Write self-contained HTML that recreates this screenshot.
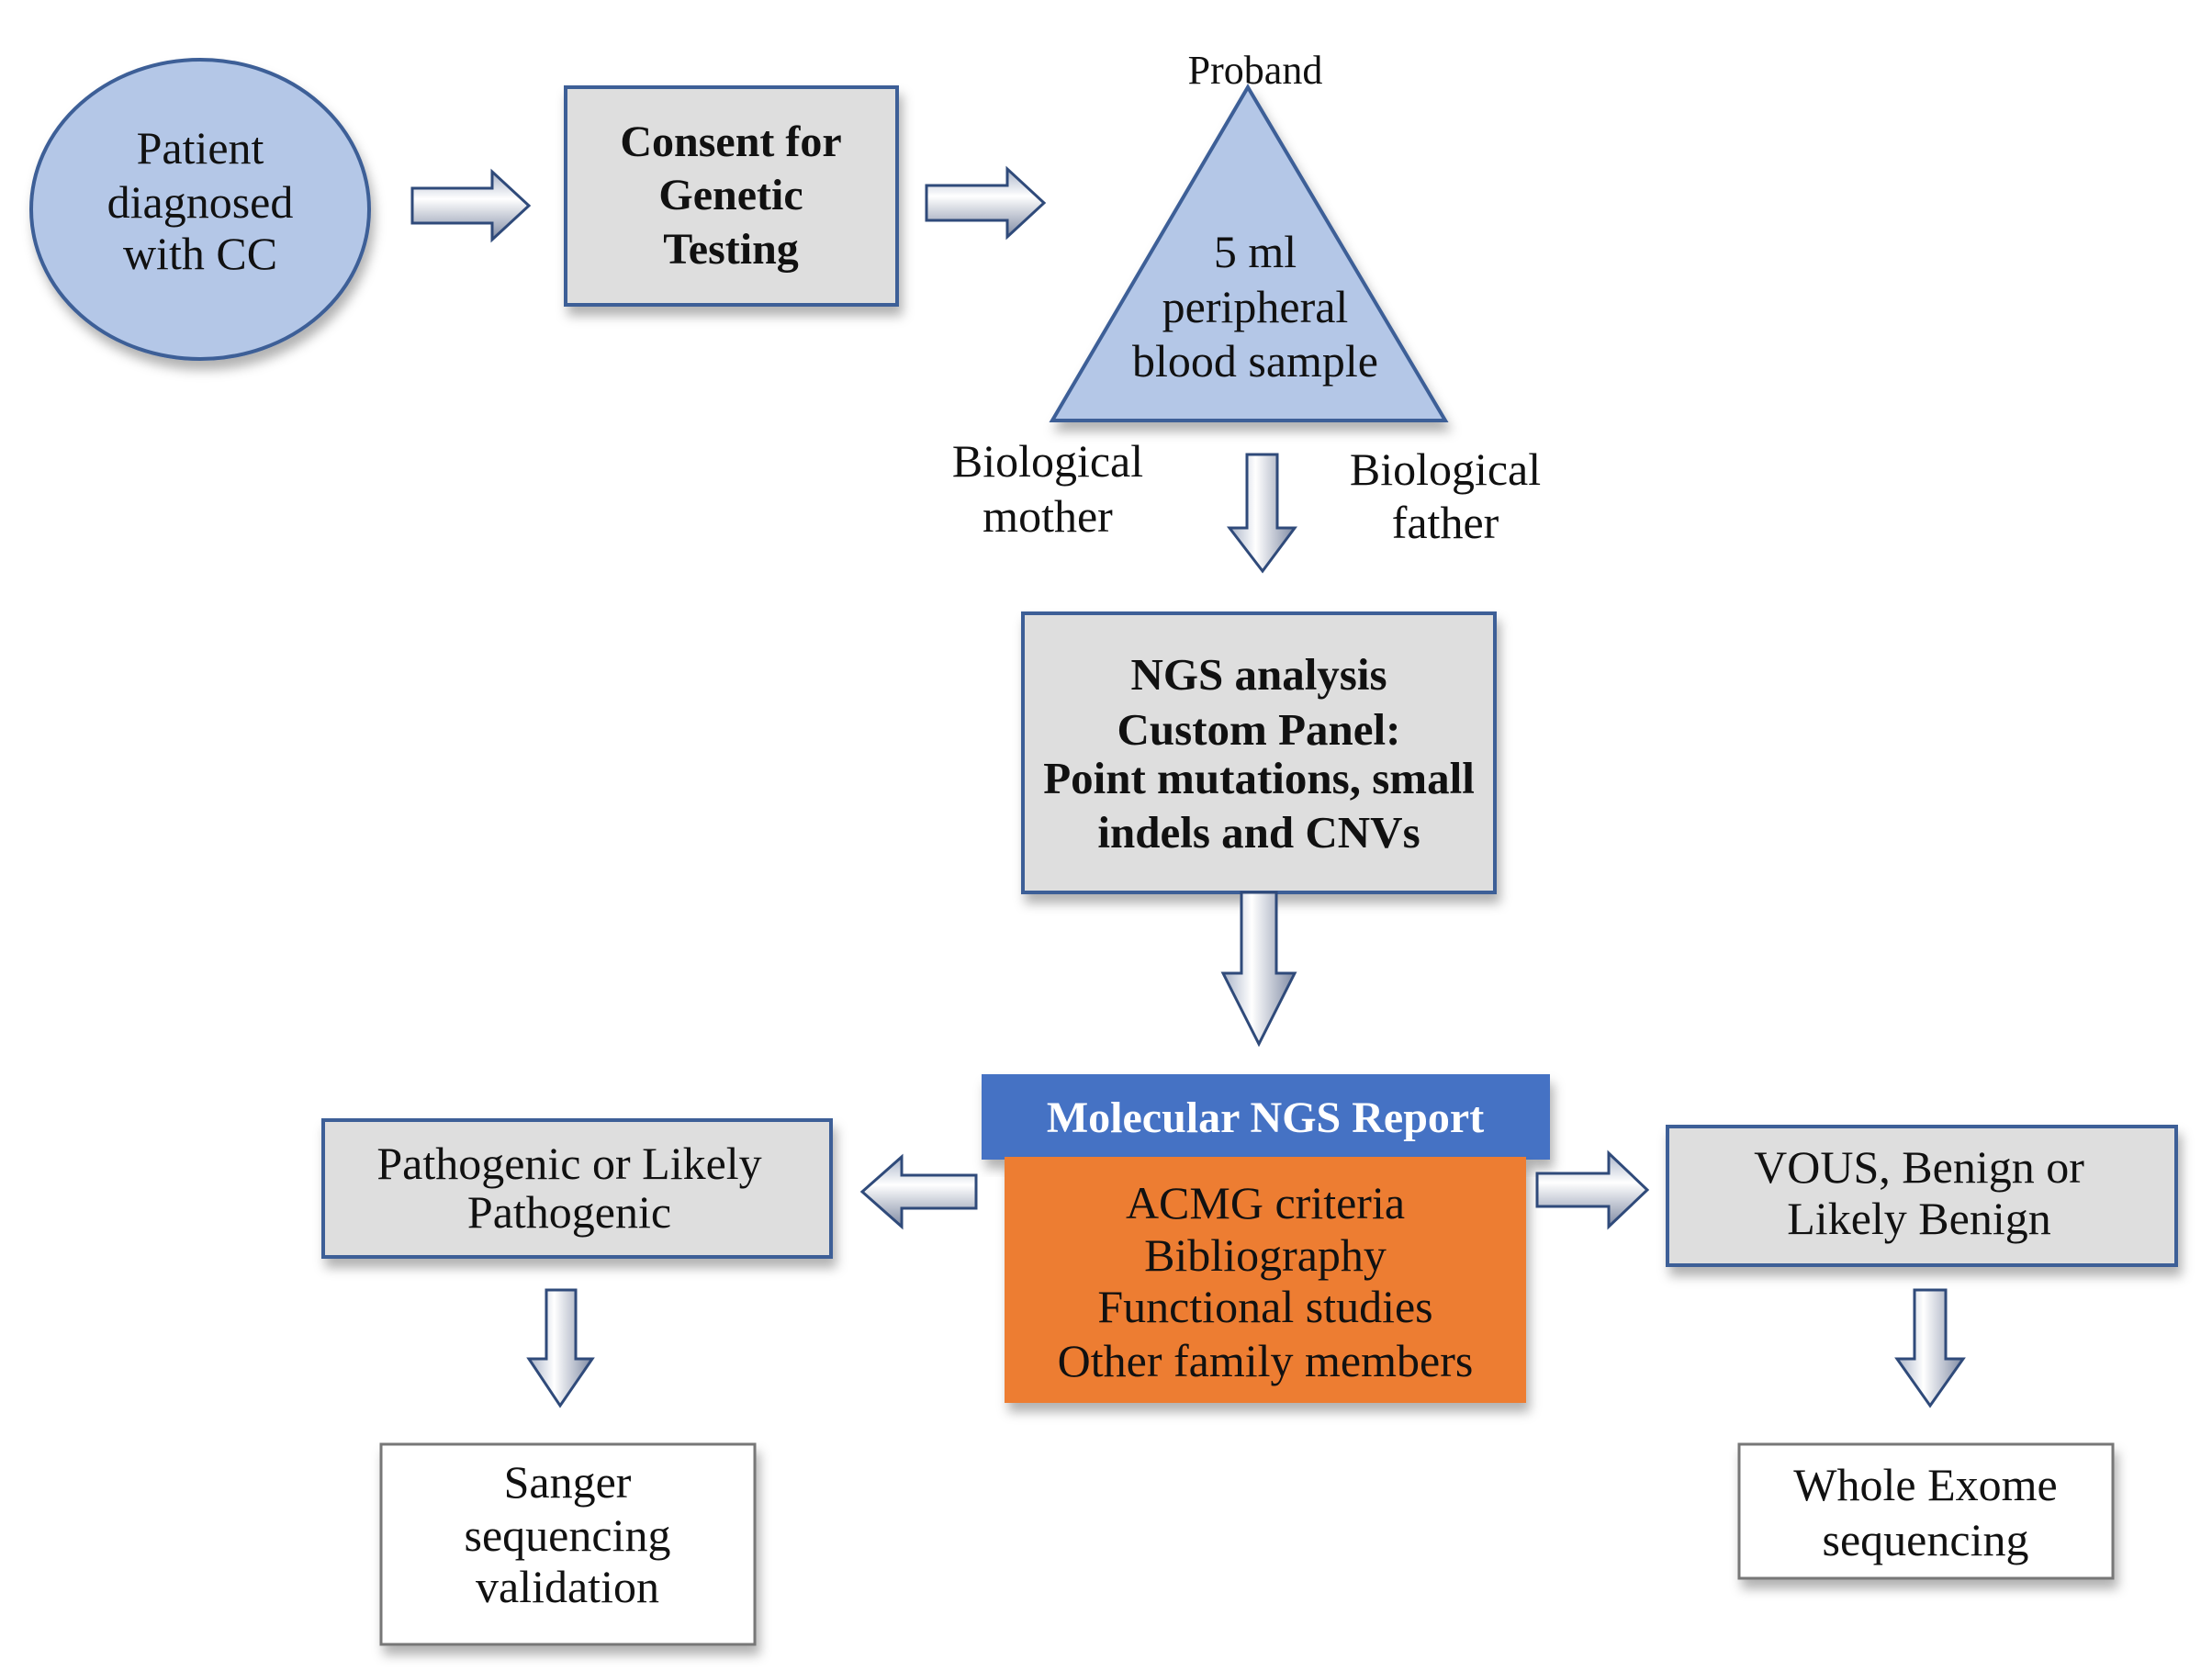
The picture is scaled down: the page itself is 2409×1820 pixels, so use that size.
<!DOCTYPE html>
<html><head><meta charset="utf-8"><style>
html,body{margin:0;padding:0;background:#fff}
svg{display:block}
text{font-family:"Liberation Serif",serif;text-anchor:middle;fill:#111}
.b{font-weight:bold}
</style></head><body>
<svg width="2409" height="1820" viewBox="0 0 2409 1820" xmlns="http://www.w3.org/2000/svg">
<defs>
<linearGradient id="gv" x1="0" y1="0" x2="0" y2="1"><stop offset="0" stop-color="#aab4c8"/><stop offset="0.4" stop-color="#fff"/><stop offset="1" stop-color="#7f8aa3"/></linearGradient>
<linearGradient id="gh" x1="0" y1="0" x2="1" y2="0"><stop offset="0" stop-color="#aab4c8"/><stop offset="0.4" stop-color="#fff"/><stop offset="1" stop-color="#7f8aa3"/></linearGradient>
<filter id="sh" x="-10%" y="-10%" width="130%" height="130%"><feDropShadow dx="4" dy="10" stdDeviation="6" flood-color="#000" flood-opacity="0.3"/></filter>
</defs>
<g stroke="#3e5f97" stroke-width="4">
<ellipse cx="218" cy="228" rx="184" ry="163" fill="#b4c7e7" filter="url(#sh)"/>
<rect x="616" y="95" width="361" height="237" fill="#dedede" filter="url(#sh)"/>
<polygon points="1359,95 1574,458 1146,458" fill="#b4c7e7" filter="url(#sh)"/>
<rect x="1114" y="668" width="514" height="304" fill="#dedede" filter="url(#sh)"/>
<rect x="352" y="1220" width="553" height="149" fill="#dedede" filter="url(#sh)"/>
<rect x="1816" y="1227" width="554" height="151" fill="#dedede" filter="url(#sh)"/>
</g>
<rect x="1069" y="1170" width="619" height="93" fill="#4472c4" filter="url(#sh)"/>
<rect x="1094" y="1260" width="568" height="268" fill="#ed7d31" filter="url(#sh)"/>
<rect x="415" y="1573" width="407" height="218" fill="#fff" stroke="#777" stroke-width="3" filter="url(#sh)"/>
<rect x="1894" y="1573" width="407" height="146" fill="#fff" stroke="#777" stroke-width="3" filter="url(#sh)"/>
<g stroke="#2f4a7a" stroke-width="3">
<polygon points="449,205 536,205 536,187 576,224 536,261 536,243 449,243" fill="url(#gv)"/>
<polygon points="1009,202 1097,202 1097,184 1137,221 1097,258 1097,240 1009,240" fill="url(#gv)"/>
<polygon points="1358,495 1391,495 1391,575 1410,575 1375,622 1339,575 1358,575" fill="url(#gh)"/>
<polygon points="1352,972 1390,972 1390,1060 1410,1060 1371,1137 1332,1060 1352,1060" fill="url(#gh)"/>
<polygon points="1063,1280 982,1280 982,1260 939,1298 982,1336 982,1316 1063,1316" fill="url(#gv)"/>
<polygon points="1674,1278 1752,1278 1752,1256 1794,1296 1752,1336 1752,1314 1674,1314" fill="url(#gv)"/>
<polygon points="595,1405 627,1405 627,1480 645,1480 610,1531 576,1480 595,1480" fill="url(#gh)"/>
<polygon points="2085,1405 2119,1405 2119,1480 2138,1480 2102,1531 2066,1480 2085,1480" fill="url(#gh)"/>
</g>
<g font-size="50">
<text x="218" y="178">Patient</text>
<text x="218" y="237">diagnosed</text>
<text x="218" y="293">with CC</text>
<text class="b" x="796" y="170" font-size="48">Consent for</text>
<text class="b" x="796" y="228" font-size="48">Genetic</text>
<text class="b" x="796" y="287" font-size="48">Testing</text>
<text x="1367" y="91" font-size="44">Proband</text>
<text x="1367" y="291">5 ml</text>
<text x="1367" y="351">peripheral</text>
<text x="1367" y="410">blood sample</text>
<text x="1141" y="519">Biological</text>
<text x="1141" y="579">mother</text>
<text x="1574" y="528">Biological</text>
<text x="1574" y="586">father</text>
<text class="b" x="1371" y="751" font-size="49">NGS analysis</text>
<text class="b" x="1371" y="811" font-size="49">Custom Panel:</text>
<text class="b" x="1371" y="864" font-size="49">Point mutations, small</text>
<text class="b" x="1371" y="923" font-size="49">indels and CNVs</text>
<text class="b" x="1378" y="1233" font-size="48" style="fill:#fff">Molecular NGS Report</text>
<text x="1378" y="1327">ACMG criteria</text>
<text x="1378" y="1384">Bibliography</text>
<text x="1378" y="1440">Functional studies</text>
<text x="1378" y="1499">Other family members</text>
<text x="620" y="1284">Pathogenic or Likely</text>
<text x="620" y="1337">Pathogenic</text>
<text x="2090" y="1288">VOUS, Benign or</text>
<text x="2090" y="1344">Likely Benign</text>
<text x="618" y="1631">Sanger</text>
<text x="618" y="1689">sequencing</text>
<text x="618" y="1745">validation</text>
<text x="2097" y="1634">Whole Exome</text>
<text x="2097" y="1694">sequencing</text>
</g>
</svg>
</body></html>
